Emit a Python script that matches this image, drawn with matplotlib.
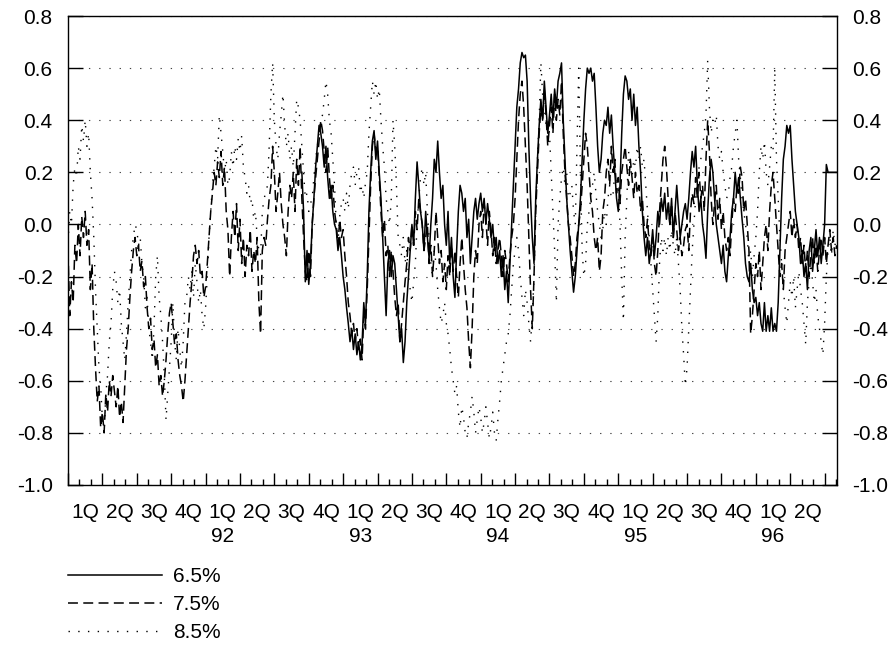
import numpy as np
import matplotlib
matplotlib.use("Agg")
import matplotlib.pyplot as plt

plt.rcParams["font.family"] = ["Liberation Sans", "DejaVu Sans"]
plt.rcParams["font.size"] = 15

# series are read every 0.05 quarter, x counted in quarters from the start of 1Q91
step = 0.05
start_65 = 6.8
start_75 = 0.0
start_85 = 0.0

spread_65 = [
    0.20, 0.05, -0.22, -0.10,
    -0.23, -0.15, 0.00, 0.10, 0.22, 0.30, 0.38, 0.35, 0.30, 0.22, 0.30, 0.18, 0.10, 0.15, 0.05, 0.00, -0.02, -0.10, -0.05, -0.12,
    -0.20, -0.25, -0.32, -0.38, -0.45, -0.40, -0.48, -0.42, -0.50, -0.45, -0.52, -0.46, -0.30, -0.38, -0.20, 0.05, 0.20, 0.32, 0.36, 0.25,
    0.32, 0.20, 0.10, -0.05, -0.20, -0.35, -0.15, -0.10, -0.20, -0.12, -0.15, -0.25, -0.35, -0.45, -0.40, -0.53, -0.45, -0.30, -0.20, -0.10,
    0.00, -0.08, 0.10, 0.24, 0.15, 0.05, 0.00, -0.10, 0.05, -0.05, -0.13, 0.00, 0.10, 0.25, 0.20, 0.32, 0.20, 0.10, 0.15, 0.00,
    -0.08, 0.05, -0.15, -0.05, -0.20, -0.28, -0.10, 0.05, 0.15, 0.12, 0.05, 0.10, -0.05, 0.02, -0.15, -0.05, 0.05, 0.10, 0.02, 0.08,
    0.12, 0.05, 0.10, 0.00, 0.08, 0.02, -0.05, 0.00, -0.10, -0.05, -0.15, -0.10, -0.20, -0.12, -0.25, -0.18, -0.30, -0.15, 0.00, 0.15,
    0.30, 0.45, 0.52, 0.62, 0.66, 0.64, 0.65, 0.55, 0.30, 0.10, -0.05, -0.15, 0.10, 0.25, 0.38, 0.48, 0.40, 0.55, 0.45, 0.35,
    0.42, 0.50, 0.40, 0.52, 0.45, 0.55, 0.58, 0.62, 0.40, 0.25, 0.10, 0.00, -0.10, -0.18, -0.26, -0.20, -0.10, 0.00, 0.10, 0.25,
    0.40, 0.52, 0.60, 0.58, 0.60, 0.55, 0.58, 0.45, 0.30, 0.20, 0.25, 0.35, 0.40, 0.38, 0.45, 0.35, 0.42, 0.30, 0.20, 0.10,
    0.05, 0.15, 0.35, 0.50, 0.57, 0.55, 0.48, 0.52, 0.40, 0.50, 0.38, 0.45, 0.30, 0.20, 0.05, -0.05, -0.12, -0.05, -0.15, -0.10,
    -0.02, -0.12, -0.05, 0.05, 0.00, 0.10, 0.05, 0.12, 0.02, 0.08, 0.00, 0.10, -0.05, 0.05, 0.15, 0.05, -0.05, 0.00, 0.05, 0.08,
    0.02, 0.10, 0.20, 0.28, 0.22, 0.30, 0.15, 0.05, 0.10, 0.00, -0.05, -0.13, 0.05, 0.18, 0.25, 0.20, 0.10, 0.00, -0.05, -0.10,
    -0.15, -0.08, -0.18, -0.22, -0.12, -0.05, 0.05, 0.10, 0.20, 0.12, 0.18, 0.10, 0.02, -0.05, -0.15, -0.20, -0.22, -0.15, -0.25, -0.30,
    -0.28, -0.35, -0.30, -0.38, -0.41, -0.30, -0.41, -0.35, -0.41, -0.32, -0.41, -0.38, -0.41, -0.30, -0.10, 0.10, 0.25, 0.30, 0.38, 0.35,
    0.38, 0.25, 0.15, 0.05, 0.00, -0.05, -0.15, -0.10, -0.20, -0.15, -0.25, -0.10, -0.05, -0.18, -0.10, -0.02, -0.12, -0.05, -0.15, -0.08,
    0.00, 0.23, 0.20, 0.20, 0.20, 0.20, 0.20, 0.20,
]

spread_75 = [
    -0.10, -0.35, -0.22, -0.30, -0.08, -0.15, 0.00, -0.12, 0.03, -0.05, 0.05, -0.08, -0.02, -0.25, -0.15, -0.40, -0.55, -0.68, -0.62, -0.78,
    -0.72, -0.80, -0.65, -0.72, -0.60, -0.66, -0.58, -0.64, -0.70, -0.62, -0.74, -0.68, -0.76, -0.62, -0.48, -0.40, -0.28, -0.18, -0.10, -0.05,
    -0.12, -0.08, -0.18, -0.14, -0.24, -0.20, -0.32, -0.40, -0.36, -0.48, -0.44, -0.55, -0.50, -0.62, -0.58, -0.66, -0.60, -0.52, -0.42, -0.34,
    -0.30, -0.38, -0.46, -0.42, -0.52, -0.58, -0.62, -0.68, -0.60, -0.50, -0.40, -0.30, -0.22, -0.12, -0.08, -0.15, -0.10, -0.20, -0.18, -0.28,
    -0.24, -0.15, -0.05, 0.05, 0.12, 0.20, 0.15, 0.24, 0.18, 0.28, 0.15, 0.22, 0.05, -0.02, -0.20, -0.05, 0.05, -0.05, 0.08, -0.10,
    0.02, -0.15, -0.05, -0.20, -0.08, -0.12, -0.02, -0.18, -0.10, -0.15, -0.05, -0.30, -0.42, -0.10, -0.05, -0.08, 0.02, 0.10, 0.15, 0.30,
    0.20, 0.05, 0.12, 0.20, 0.08, 0.00, -0.05, -0.12, 0.05, 0.15, 0.10, 0.20, 0.05, 0.25, 0.15, 0.30, 0.10, -0.05, -0.18, -0.22,
    -0.10, -0.20, 0.00, 0.10, 0.18, 0.25, 0.32, 0.40, 0.36, 0.28, 0.20, 0.30, 0.18, 0.10, 0.15, 0.05, 0.00, -0.08, 0.02, -0.05,
    -0.02, -0.12, -0.20, -0.30, -0.35, -0.42, -0.38, -0.45, -0.40, -0.48, -0.44, -0.52, -0.35, -0.40, -0.25, -0.05, 0.15, 0.30, 0.35, 0.28,
    0.30, 0.18, 0.05, -0.05, 0.02, -0.12, -0.08, -0.20, -0.10, -0.18, -0.28, -0.35, -0.30, -0.45, -0.38, -0.30, -0.22, -0.15, -0.05, -0.10,
    0.00, -0.08, 0.05, -0.02, 0.10, 0.05, 0.00, -0.10, -0.05, 0.00, -0.15, -0.08, -0.20, -0.10, 0.05, -0.05, -0.15, -0.10, -0.22, -0.15,
    -0.25, -0.12, -0.20, -0.08, -0.18, -0.10, -0.20, -0.28, -0.15, -0.05, -0.15, -0.25, -0.32, -0.45, -0.55, -0.40, -0.20, -0.10, -0.15, 0.00,
    0.05, -0.05, 0.08, 0.02, -0.08, 0.05, -0.02, -0.12, -0.05, -0.15, -0.10, -0.05, -0.12, -0.20, -0.10, -0.15, -0.22, -0.12, -0.05, 0.00,
    0.10, 0.25, 0.40, 0.50, 0.55, 0.45, 0.30, 0.15, -0.05, -0.25, -0.40, -0.20, 0.05, 0.20, 0.35, 0.45, 0.40, 0.52, 0.42, 0.30,
    0.38, 0.45, 0.35, 0.50, 0.40, 0.48, 0.42, 0.55, 0.35, 0.20, 0.10, 0.00, -0.05, -0.12, -0.20, -0.15, -0.05, 0.00, 0.05, 0.15,
    0.25, 0.35, 0.30, 0.20, 0.10, 0.05, -0.05, -0.10, -0.05, -0.18, -0.12, 0.05, 0.10, 0.20, 0.25, 0.15, 0.30, 0.20, 0.25, 0.12,
    0.18, 0.08, 0.20, 0.25, 0.30, 0.22, 0.15, 0.25, 0.18, 0.10, 0.20, 0.12, 0.15, 0.05, 0.10, 0.00, -0.05, 0.02, -0.08, -0.12,
    -0.05, -0.15, -0.20, -0.10, 0.05, 0.15, 0.25, 0.30, 0.22, 0.10, 0.00, 0.08, -0.05, 0.05, -0.02, -0.10, -0.05, -0.12, -0.08, -0.02,
    0.00, -0.10, 0.05, 0.12, 0.08, 0.18, 0.10, 0.20, 0.10, 0.15, 0.05, 0.25, 0.40, 0.28, 0.10, 0.00, 0.08, 0.15, 0.02, 0.10,
    -0.02, 0.05, -0.05, -0.10, -0.05, -0.12, 0.00, 0.10, 0.05, 0.15, 0.12, 0.22, 0.18, 0.05, 0.10, 0.00, -0.10, -0.42, -0.35, -0.25,
    -0.15, -0.20, -0.10, -0.25, -0.15, -0.05, 0.00, -0.10, 0.05, 0.15, 0.20, 0.10, 0.00, -0.10, -0.20, -0.15, -0.25, -0.10, -0.05, 0.00,
    0.05, -0.05, 0.02, -0.05, 0.00, -0.10, -0.05, -0.15, -0.08, -0.18, -0.10, -0.20, -0.12, -0.05, -0.15, -0.08, -0.18, -0.10, -0.05, -0.12,
    -0.05, -0.15, -0.08, -0.02, -0.10, -0.05, -0.12, -0.08,
]

spread_85 = [
    -0.07, 0.05, 0.00, 0.15, 0.22, 0.18, 0.30, 0.25, 0.38, 0.32, 0.40, 0.30, 0.35, 0.20, 0.10, -0.05, -0.25, -0.40, -0.55, -0.62,
    -0.75, -0.80, -0.65, -0.58, -0.45, -0.38, -0.25, -0.18, -0.22, -0.30, -0.25, -0.38, -0.45, -0.52, -0.42, -0.30, -0.20, -0.10, -0.05, 0.00,
    -0.02, -0.08, -0.05, -0.15, -0.20, -0.32, -0.28, -0.40, -0.45, -0.52, -0.40, -0.20, -0.12, -0.28, -0.35, -0.45, -0.58, -0.75, -0.65, -0.55,
    -0.45, -0.30, -0.45, -0.52, -0.40, -0.48, -0.55, -0.45, -0.30, -0.28, -0.20, -0.25, -0.18, -0.28, -0.15, -0.22, -0.30, -0.25, -0.35, -0.40,
    -0.32, -0.20, -0.05, 0.05, 0.15, 0.22, 0.30, 0.25, 0.42, 0.35, 0.28, 0.20, 0.25, 0.15, 0.18, 0.28, 0.22, 0.30, 0.25, 0.33,
    0.28, 0.34, 0.22, 0.18, 0.12, 0.15, 0.08, 0.10, 0.02, 0.05, -0.05, -0.10, -0.12, 0.05, 0.10, 0.12, 0.15, 0.30, 0.50, 0.62,
    0.40, 0.30, 0.25, 0.35, 0.42, 0.50, 0.38, 0.30, 0.35, 0.25, 0.30, 0.22, 0.35, 0.48, 0.45, 0.40, 0.30, 0.20, 0.10, 0.12,
    0.05, 0.08, 0.10, 0.18, 0.25, 0.30, 0.35, 0.40, 0.42, 0.48, 0.55, 0.50, 0.40, 0.35, 0.25, 0.15, 0.00, -0.07, 0.03, 0.08,
    0.10, 0.05, 0.12, 0.06, 0.15, 0.20, 0.22, 0.15, 0.20, 0.22, 0.12, 0.15, 0.10, 0.16, 0.20, 0.35, 0.45, 0.55, 0.50, 0.55,
    0.48, 0.52, 0.40, 0.30, 0.22, 0.10, 0.05, 0.00, 0.10, 0.40, 0.30, 0.15, -0.05, -0.08, -0.12, -0.05, -0.15, -0.10, -0.20, -0.25,
    -0.30, -0.22, -0.15, 0.00, 0.10, 0.18, 0.22, 0.15, 0.20, 0.05, -0.05, -0.15, -0.20, -0.10, -0.15, -0.25, -0.32, -0.38, -0.35, -0.30,
    -0.38, -0.42, -0.48, -0.55, -0.60, -0.65, -0.62, -0.72, -0.78, -0.70, -0.74, -0.80, -0.82, -0.76, -0.72, -0.66, -0.72, -0.80, -0.75, -0.70,
    -0.74, -0.80, -0.76, -0.70, -0.76, -0.82, -0.78, -0.72, -0.80, -0.83, -0.75, -0.68, -0.60, -0.55, -0.50, -0.45, -0.42, -0.35, -0.25, -0.15,
    -0.10, -0.05, -0.10, -0.20, -0.28, -0.35, -0.25, -0.30, -0.38, -0.45, -0.35, -0.20, 0.05, 0.25, 0.40, 0.62, 0.50, 0.45, 0.38, 0.40,
    0.35, 0.20, 0.05, -0.10, -0.30, 0.00, 0.10, 0.18, 0.22, 0.15, 0.20, 0.10, 0.12, 0.15, 0.05, 0.00, 0.30, 0.60, 0.20, -0.10,
    -0.20, -0.15, 0.00, 0.05, 0.10, 0.15, 0.20, 0.12, 0.05, 0.00, -0.05, -0.02, 0.05, 0.00, 0.10, 0.15, 0.10, 0.12, 0.20, 0.18,
    0.15, 0.00, -0.20, -0.37, -0.05, 0.10, 0.28, 0.22, 0.18, 0.25, 0.22, 0.30, 0.25, 0.30, 0.22, 0.25, 0.15, 0.05, -0.05, -0.15,
    -0.25, -0.35, -0.45, -0.35, -0.15, -0.05, -0.10, -0.05, -0.12, -0.05, -0.10, -0.02, -0.08, -0.12, -0.05, -0.15, -0.25, -0.40, -0.50, -0.62,
    -0.55, -0.40, -0.25, -0.10, 0.00, 0.10, 0.15, 0.22, 0.25, 0.30, 0.35, 0.42, 0.63, 0.45, 0.35, 0.40, 0.38, 0.42, 0.30, 0.25,
    0.28, 0.20, 0.15, 0.10, 0.12, 0.18, 0.22, 0.30, 0.35, 0.40, 0.25, 0.18, 0.10, 0.05, 0.00, -0.05, -0.15, -0.10, -0.20, -0.12,
    -0.05, 0.05, 0.20, 0.30, 0.25, 0.32, 0.20, 0.15, 0.22, 0.30, 0.28, 0.60, 0.25, 0.10, -0.05, -0.15, -0.25, -0.32, -0.38, -0.30,
    -0.22, -0.28, -0.20, -0.32, -0.25, -0.18, -0.25, -0.30, -0.38, -0.46, -0.30, -0.22, -0.15, -0.22, -0.30, -0.25, -0.35, -0.40, -0.45, -0.50,
    -0.38, -0.20, -0.10, -0.05, -0.12, -0.02, -0.08, -0.05,
]

series_labels = ["6.5%", "7.5%", "8.5%"]
quarter_names = ["1Q", "2Q", "3Q", "4Q"]
first_year = 91
n_quarters = 22
x_end = 22.36
y_ticks = [0.8, 0.6, 0.4, 0.2, 0.0, -0.2, -0.4, -0.6, -0.8, -1.0]


def quarter_axis(values, start):
    return start + step * np.arange(len(values))


fig = plt.figure(figsize=(8.96, 6.45), dpi=100)
ax = fig.add_axes([68 / 896, 1 - 485 / 645, (837 - 68) / 896, (485 - 16) / 645])

l65, = ax.plot(quarter_axis(spread_65, start_65), spread_65, color="black", lw=1.1, zorder=4)
l75, = ax.plot(quarter_axis(spread_75, start_75), spread_75, color="black", lw=1.1,
               linestyle=(0, (6.5, 3.5)), zorder=3)
l85, = ax.plot(quarter_axis(spread_85, start_85), spread_85, color="black", lw=1.0,
               linestyle=(0, (1, 6)), zorder=2)

ax.set_xlim(0, x_end)
ax.set_ylim(-1.0, 0.8)

# y axis: labels on both sides, dotted grid
ax.set_yticks(y_ticks)
ax.set_yticklabels([f"{v:.1f}" for v in y_ticks])
ax.tick_params(axis="y", which="major", direction="in", length=11, width=1,
               left=True, right=True, labelleft=True, labelright=True, pad=11)
ax.yaxis.grid(True, color="#444444", lw=0.8, linestyle=(0, (1.2, 8)))

# x axis: quarter boundaries as long ticks, months as short ones
ax.set_xticks(np.arange(0, n_quarters + 1))
ax.set_xticklabels([])
ax.set_xticks([q + m / 3 for q in range(n_quarters + 1) for m in (1, 2) if q + m / 3 < x_end],
              minor=True)
ax.tick_params(axis="x", which="major", direction="in", length=9, width=1)
ax.tick_params(axis="x", which="minor", direction="in", length=4, width=1)

labels = []
for i in range(n_quarters):
    name = quarter_names[i % 4]
    year = first_year + i // 4
    if i % 4 == 0 and year != first_year:
        name += f"\n{year}"
    labels.append(name)

sec = ax.secondary_xaxis("bottom")
sec.set_xticks(np.arange(n_quarters) + 0.5)
sec.set_xticklabels(labels, linespacing=1.3)
sec.tick_params(length=0, pad=13)
sec.spines["bottom"].set_visible(False)

for side in ["left", "right", "top", "bottom"]:
    ax.spines[side].set_linewidth(1.0)
    ax.spines[side].set_color("black")

fig.legend([l65, l75, l85], series_labels, loc="upper left",
           bbox_to_anchor=(68 / 896, 1 - 567 / 645), frameon=False,
           handlelength=4.5, handletextpad=0.55, labelspacing=0.43,
           borderpad=0, borderaxespad=0)

fig.savefig("out.png", dpi=100)
